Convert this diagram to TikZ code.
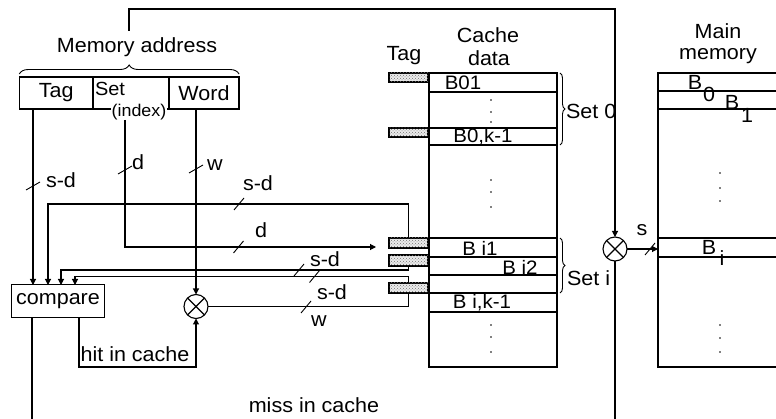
\documentclass[tikz,border=0pt]{standalone}
\usepackage{fontspec}
\setmainfont{Liberation Sans}[FakeStretch=1.05]
\usetikzlibrary{arrows.meta,decorations.pathreplacing,patterns}
\begin{document}
\begin{tikzpicture}[x=1pt,y=-1pt, line width=1.1pt,
  every node/.style={inner sep=0pt, outer sep=0pt},
  lbl/.style={font=\fontsize{20.5}{22}\selectfont},
  sml/.style={font=\fontsize{17}{19}\selectfont},
  blk/.style={font=\fontsize{19.5}{21}\selectfont},
  fld/.style={draw, minimum height=32pt, lbl},
  tagbox/.style={draw, fill=black!8, postaction={pattern=crosshatch dots, pattern color=black!55}, minimum width=39pt},
  mult/.style={draw, circle, minimum size=24pt},
  arr/.style={-{Triangle[length=6pt,width=6pt]}},
  tick/.style={line width=0.9pt},
  brc/.style={decorate, line width=0.9pt},
]
\useasboundingbox (0,0) rectangle (776,419);
\clip (0,0) rectangle (776,419);

% ---- memory address ----
\node[lbl] (maddr) at (137,47) {Memory address};
\draw[brc, decoration={brace, amplitude=9pt}] (19.3,74) -- (239,74);
\node[fld, minimum width=73.7pt] (ftag) at (56.15,93) {Tag};
\node[fld, minimum width=76pt] (fset) at (131,93) {};
\node[fld, minimum width=70pt] (fword) at (204,93) {Word};
\node[font=\fontsize{19}{20}\selectfont] (settxt) at (110,89) {Set};
\node[sml, fill=white, inner xsep=1pt] (idx) at (139,112) {(index)};

% ---- compare and multipliers ----
\node[draw, lbl, minimum width=92.6pt, minimum height=32.3pt] (cmp) at (58,301) {compare};
\node[mult] (lmul) at (196,306.5) {};
\draw (lmul.north east) -- (lmul.south west) (lmul.north west) -- (lmul.south east);
\node[mult] (rmul) at (615,249) {};
\draw (rmul.north east) -- (rmul.south west) (rmul.north west) -- (rmul.south east);

% ---- cache ----
\node[lbl] (tagttl) at (404,56) {Tag};
\node[lbl] (cachettl) at (488,35) {Cache};
\node[lbl] (datattl) at (489,58) {data};
\node[draw, minimum width=128pt, minimum height=294pt, anchor=north west] (cd) at (429,73) {};
\foreach \yy in {92,128,145,238,257,275,293,312} \draw (429,\yy) -- (557,\yy);
\node[tagbox, minimum height=9pt] (t0) at (408.5,77.5) {};
\node[tagbox, minimum height=9pt] (t0k) at (408.5,132.5) {};
\node[tagbox, minimum height=10pt] (ti1) at (408.5,243) {};
\node[tagbox, minimum height=11pt] (ti2) at (408.5,260.5) {};
\node[tagbox, minimum height=10pt] (tik) at (408.5,288) {};
\node[blk] (b01) at (463,83) {B01};
\node[blk] (b0k) at (483,137) {B0,k-1};
\node[blk] (bi1) at (480,248) {B i1};
\node[blk] (bi2) at (520,267) {B i2};
\node[blk] (bik) at (482,303) {B i,k-1};
\foreach \yy in {100,112,122,180,192,207,325,337,352} \fill (491,\yy) circle (0.9);
\draw[brc, decoration={brace, amplitude=5pt}] (560,73) -- (560,145);
\draw[brc, decoration={brace, amplitude=5pt}] (560,238) -- (560,293);
\node[lbl, anchor=west] (set0) at (566,111) {Set 0};
\node[lbl, anchor=west] (seti) at (567,278) {Set i};

% ---- main memory ----
\node[lbl] (mainttl) at (718,31) {Main};
\node[lbl] (memttl) at (718,56) {memory};
\node[draw, minimum width=150pt, minimum height=294pt, anchor=north west] (mm) at (658,73) {};
\foreach \yy in {91,109,238,257} \draw (658,\yy) -- (790,\yy);
\node[lbl] (mb0) at (695,82) {B};
\node[lbl] (mb0s) at (709,94) {0};
\node[lbl] (mb1) at (732,102) {B};
\node[lbl] (mb1s) at (747,115) {1};
\node[lbl] (mbi) at (709,247) {B};
\node[lbl] (mbis) at (722,258) {i};
\foreach \yy in {173,188,201,325,338,352} \fill (720,\yy) circle (0.9);

% ---- connectors ----
\coordinate (c1) at (33,285);
\coordinate (c2) at (48,285);
\coordinate (c3) at (61,285);
\coordinate (c4) at (75,285);
\coordinate (dA) at (125,247);
\coordinate (h1) at (79,367);
\coordinate (mbot) at (32,419);
\coordinate (rbot) at (615,419);
\coordinate (mtop) at (129,31);
\coordinate (topr) at (129,9);

\draw[arr] (mtop) -- (topr) -| (rmul.north);
\draw[arr] (ftag.south -| c1) -- (c1);
\draw[arr, shorten >=13pt] (idx.south -| dA) -- (dA) -- (dA -| ti1.west);
\draw[arr] (fword.south -| lmul.north) -- (lmul.north);
\draw[arr] (ti1.north) -- ++(0,-34) -| (c2);
\draw[arr] (ti2.south) -- ++(0,4) -| (c3);
\draw[arr] (tik.north) -- ++(0,-6.5) -| (c4);
\draw (lmul.east) -| (tik.south);
\draw[arr] (cmp.south -| h1) -- (h1) -| (lmul.south);
\draw (cmp.south -| mbot) -- (mbot);
\draw (rmul.south) -- (rbot);
\draw[arr] (rmul.east) -- (rmul.east -| mm.west);

% ---- bus width ticks ----
\foreach \xx/\yy in {33/186, 125/170, 196/169} \draw[tick] (\xx-7,\yy+4) -- (\xx+7,\yy-4);
\foreach \xx/\yy in {239/204, 238.5/247, 299/270, 314.5/276.5, 306/307, 650/249} \draw[tick] (\xx-5,\yy+6) -- (\xx+5,\yy-6);

% ---- labels ----
\node[lbl] (l1) at (61,180) {s-d};
\node[lbl] (l2) at (138,162) {d};
\node[lbl] (l3) at (215,165) {w};
\node[lbl] (l4) at (258,183) {s-d};
\node[lbl] (l5) at (261,230) {d};
\node[lbl] (l6) at (325,259) {s-d};
\node[lbl] (l7) at (332,292) {s-d};
\node[lbl] (l8) at (319,321) {w};
\node[lbl] (l9) at (642,230) {s};
\node[lbl] (hit) at (135,354) {hit in cache};
\node[lbl] (miss) at (314,405) {miss in cache};
\end{tikzpicture}
\end{document}
